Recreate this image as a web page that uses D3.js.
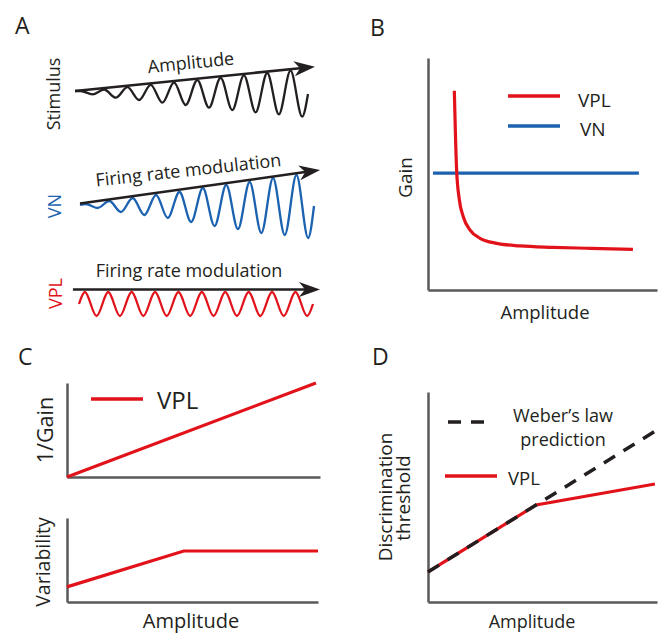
<!DOCTYPE html>
<html>
<head>
<meta charset="utf-8">
<script src="https://cdn.jsdelivr.net/npm/d3@7"></script>
<style>
  body { margin: 0; background: #fff; }
  text { font-family: "Open Sans", sans-serif; fill: #231f20; }
</style>
</head>
<body>
<div id="fig"></div>
<script>

// frame constants
const FRAME_WIDTH = 664;
const FRAME_HEIGHT = 633;
const RED = "#e2121b";
const BLUE = "#1b62b0";
const INK = "#231f20";
const AXIS = "#5a5a5a";

// panel A: wave extrema (peak, then trough, once per cycle)
const STIM_PEAKS = [0, 1.5, 3.8, 6.2, 8.5, 10.9, 13.2, 15.6, 18, 20.3];
const STIM_TROUGHS = [-3.3, -6.7, -9, -11.7, -14, -16.7, -19, -21.3, -23.3, -25.7];
const VN_PEAKS = [1, 4, 7, 10, 13, 17, 20, 23, 27, 30];
const VN_TROUGHS = [-3, -7, -10, -13, -17, -21, -24, -28, -30, -33];
const VPL_PEAKS = [12, 12, 12, 12, 12, 12, 12, 12, 12, 12];
const VPL_TROUGHS = [-12, -12, -12, -12, -12, -12, -12, -12, -12, -12];
const WAVE_END = {stim: -3, vn: -1, vpl: 0};

// panel B: gain vs amplitude
const B_AMP = [0.115, 0.125, 0.137, 0.154, 0.183, 0.227, 0.3, 0.402, 0.546, 0.693, 0.895];
const B_VPL_GAIN = [0.859, 0.517, 0.388, 0.316, 0.259, 0.223, 0.201, 0.19, 0.184, 0.18, 0.175];
const B_VN_AMP = [0.022, 0.921];
const B_VN_GAIN = [0.504, 0.504];

// panel C: 1/gain and variability vs amplitude
const C_AMP = [0, 0.984];
const C_INV_GAIN = [0, 1];
const C_VAR_AMP = [0, 0.465, 1];
const C_VAR = [0.18, 0.607, 0.607];

// panel D: discrimination threshold vs amplitude
const D_VPL_AMP = [0, 0.472, 0.991];
const D_VPL = [0.143, 0.462, 0.562];
const D_WEBER_AMP = [0, 1];
const D_WEBER = [0.143, 0.819];


const FRAME = d3.select("#fig")
                .append("svg")
                  .attr("width", FRAME_WIDTH)
                  .attr("height", FRAME_HEIGHT);

// arrow head, tip sits 15px past the end of the line
FRAME.append("defs").append("marker")
      .attr("id", "arrow")
      .attr("viewBox", "-22 -9 24 18")
      .attr("refX", -15)
      .attr("refY", 0)
      .attr("markerWidth", 24)
      .attr("markerHeight", 18)
      .attr("markerUnits", "userSpaceOnUse")
      .attr("orient", "auto")
    .append("path")
      .attr("d", "M0,0 L-21,-7.5 L-15,0 L-21,7.5 Z")
      .attr("fill", INK);

function arrow(x1, y1, x2, y2) {
  const len = Math.hypot(x2 - x1, y2 - y1);
  FRAME.append("line")
      .attr("x1", x1).attr("y1", y1)
      .attr("x2", x2 - (x2 - x1) / len * 15)
      .attr("y2", y2 - (y2 - y1) / len * 15)
      .attr("stroke", INK)
      .attr("stroke-width", 2.5)
      .attr("marker-end", "url(#arrow)");
}

function text(str, x, y, size, opts = {}) {
  const t = FRAME.append("text")
      .attr("transform", "translate(" + x + "," + y + ")" + (opts.rot ? " rotate(" + opts.rot + ")" : ""))
      .attr("font-size", size + "px")
      .attr("text-anchor", opts.anchor || "start")
      .text(str);
  if (opts.color) t.style("fill", opts.color);
  return t;
}

function path(pts, xs, ys, color, width, curve) {
  return FRAME.append("path")
      .datum(pts)
      .attr("d", d3.line()
                    .x((d) => { return xs(d[0]); })
                    .y((d) => { return ys(d[1]); })
                    .curve(curve || d3.curveLinear))
      .attr("fill", "none")
      .attr("stroke", color)
      .attr("stroke-width", width);
}

function wave(xs, ys, peaks, troughs, endVal, color) {
  const pts = [[0, 0]];
  peaks.forEach((p, k) => {
    pts.push([k + 0.25, p]);
    pts.push([k + 0.75, troughs[k]]);
  });
  pts.push([10, endVal]);
  path(pts, xs, ys, color, 2.3, d3.curveMonotoneX);
}

function axes(xs, ys) {
  const xa = FRAME.append("g")
      .attr("transform", "translate(0," + ys.range()[0] + ")")
      .call(d3.axisBottom(xs).ticks(0).tickSizeOuter(0));
  const ya = FRAME.append("g")
      .attr("transform", "translate(" + xs.range()[0] + ",0)")
      .call(d3.axisLeft(ys).ticks(0).tickSizeOuter(0));
  [xa, ya].forEach((g) => {
    g.select(".domain").attr("stroke", AXIS).attr("stroke-width", 2.5);
  });
}

const zip = (a, b) => a.map((v, i) => [v, b[i]]);


// ---------- panel A ----------
text("A", 15, 34, 23);

// stimulus
const STIM_X = d3.scaleLinear().domain([0, 10]).range([75, 308]);
const STIM_Y = d3.scaleLinear().domain([0, 30]).range([91, 61]);
wave(STIM_X, STIM_Y, STIM_PEAKS, STIM_TROUGHS, WAVE_END.stim, INK);
arrow(STIM_X(0), STIM_Y(0), STIM_X(10.3), STIM_Y(24.3));
text("Stimulus", 60, 94, 18, {rot: -90, anchor: "middle"});
text("Amplitude", 191.5, 68.8, 18, {rot: -5.8, anchor: "middle"});

// VN
const VN_X = d3.scaleLinear().domain([0, 10]).range([80, 314]);
const VN_Y = d3.scaleLinear().domain([0, 30]).range([205, 175]);
wave(VN_X, VN_Y, VN_PEAKS, VN_TROUGHS, WAVE_END.vn, BLUE);
arrow(VN_X(0), VN_Y(1.5), VN_X(10.26), VN_Y(35));
text("VN", 61, 206, 18, {rot: -90, anchor: "middle", color: BLUE});
text("Firing rate modulation", 189, 176.3, 18, {rot: -6.3, anchor: "middle"});

// VPL
const VPL_X = d3.scaleLinear().domain([0, 10]).range([79, 313]);
const VPL_Y = d3.scaleLinear().domain([0, 30]).range([304, 274]);
wave(VPL_X, VPL_Y, VPL_PEAKS, VPL_TROUGHS, WAVE_END.vpl, RED);
arrow(VPL_X(-0.26), VPL_Y(14.5), VPL_X(10.3), VPL_Y(14.5));
text("VPL", 62, 293.5, 18, {rot: -90, anchor: "middle", color: RED});
text("Firing rate modulation", 189, 277, 18, {anchor: "middle"});


// ---------- panel B ----------
text("B", 370, 36, 23);
const B_X = d3.scaleLinear().domain([0, 1]).range([428, 657]);
const B_Y = d3.scaleLinear().domain([0, 1]).range([290, 58]);
axes(B_X, B_Y);
path(zip(B_VN_AMP, B_VN_GAIN), B_X, B_Y, BLUE, 3.2);
path(zip(B_AMP, B_VPL_GAIN), B_X, B_Y, RED, 3.2, d3.curveMonotoneX);

FRAME.append("line").attr("x1", 508).attr("x2", 560).attr("y1", 96).attr("y2", 96)
      .attr("stroke", RED).attr("stroke-width", 3.5);
FRAME.append("line").attr("x1", 508).attr("x2", 560).attr("y1", 126).attr("y2", 126)
      .attr("stroke", BLUE).attr("stroke-width", 3.5);
text("VPL", 578, 106.5, 19);
text("VN", 580, 136, 19);
text("Gain", 412, 177.5, 19, {rot: -90, anchor: "middle"});
text("Amplitude", 545, 319, 18.5, {anchor: "middle"});


// ---------- panel C ----------
text("C", 18, 365, 23);
const C_X = d3.scaleLinear().domain([0, 1]).range([67, 320]);
const C_Y = d3.scaleLinear().domain([0, 1]).range([477, 383]);
axes(C_X, C_Y);
path(zip(C_AMP, C_INV_GAIN), C_X, C_Y, RED, 3.2);

const C2_X = d3.scaleLinear().domain([0, 1]).range([67, 318]);
const C2_Y = d3.scaleLinear().domain([0, 1]).range([602, 518]);
axes(C2_X, C2_Y);
path(zip(C_VAR_AMP, C_VAR), C2_X, C2_Y, RED, 3.2);

FRAME.append("line").attr("x1", 91).attr("x2", 143).attr("y1", 399).attr("y2", 399)
      .attr("stroke", RED).attr("stroke-width", 3.5);
text("VPL", 157, 409, 24);
text("1/Gain", 53, 430, 21.5, {rot: -90, anchor: "middle"});
text("Variability", 50, 562, 19.5, {rot: -90, anchor: "middle"});
text("Amplitude", 191, 627.5, 20, {anchor: "middle"});


// ---------- panel D ----------
text("D", 372, 365, 23);
const D_X = d3.scaleLinear().domain([0, 1]).range([428, 657]);
const D_Y = d3.scaleLinear().domain([0, 1]).range([602, 392]);
axes(D_X, D_Y);
path(zip(D_VPL_AMP, D_VPL), D_X, D_Y, RED, 3.2);
path(zip(D_WEBER_AMP, D_WEBER), D_X, D_Y, INK, 3.5).attr("stroke-dasharray", "13,10");

FRAME.append("line").attr("x1", 448).attr("x2", 489).attr("y1", 422).attr("y2", 422)
      .attr("stroke", INK).attr("stroke-width", 3.5).attr("stroke-dasharray", "13,10");
FRAME.append("line").attr("x1", 445).attr("x2", 497).attr("y1", 476).attr("y2", 476)
      .attr("stroke", RED).attr("stroke-width", 3.5);
text("Weber\u2019s law", 563, 422, 18, {anchor: "middle"});
text("prediction", 563, 446, 18, {anchor: "middle"});
text("VPL", 508, 485, 18.5);
text("Discrimination", 392, 497, 19, {rot: -90, anchor: "middle"});
text("threshold", 410, 498, 19, {rot: -90, anchor: "middle"});
text("Amplitude", 532, 628, 18, {anchor: "middle"});

</script>
</body>
</html>
